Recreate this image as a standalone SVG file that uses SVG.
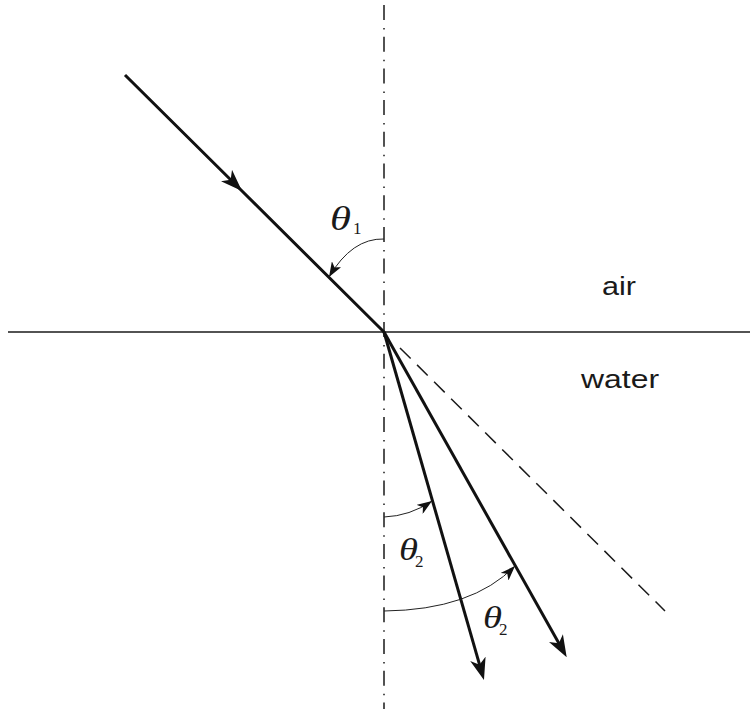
<svg xmlns="http://www.w3.org/2000/svg" width="750" height="709" viewBox="0 0 750 709">
<style>
.axis{stroke:#1a1a1a;stroke-width:1.5;fill:none}
.normal{stroke:#1a1a1a;stroke-width:1.5;fill:none;stroke-dasharray:15 8 1.5 7.2}
.ray{stroke:#111;stroke-width:3;fill:none}
.ext{stroke:#1a1a1a;stroke-width:1.5;fill:none;stroke-dasharray:15 9}
.arc{stroke:#222;stroke-width:1;fill:none}
.lbl{font-family:"Liberation Sans",Arial,sans-serif;fill:#1a1a1a}
.th{font-family:"Liberation Serif","Times New Roman",serif;font-style:italic;fill:#1a1a1a}
.sub{font-family:"Liberation Serif","Times New Roman",serif;fill:#1a1a1a}
</style>
<defs>
<marker id="big" viewBox="0 0 22 16" refX="12" refY="8" markerWidth="22" markerHeight="16" orient="auto" markerUnits="userSpaceOnUse"><path d="M0,0 L22,8 L0,16 L6,8 z" fill="#111"/></marker>
<marker id="mid" viewBox="0 0 22 16" refX="22" refY="8" markerWidth="22" markerHeight="16" orient="auto" markerUnits="userSpaceOnUse"><path d="M0,0 L22,8 L0,16 L6,8 z" fill="#111"/></marker>
<marker id="small" viewBox="0 0 15 11" refX="15" refY="5.5" markerWidth="15" markerHeight="11" orient="auto" markerUnits="userSpaceOnUse"><path d="M0,0 L15,5.5 L0,11 L4,5.5 z" fill="#111"/></marker>
</defs>
<g id="surface"><line class="axis" x1="8" y1="332" x2="750" y2="332"/></g>
<g id="normal"><line class="normal" x1="384" y1="5" x2="384" y2="709"/></g>
<g id="connectors">
<path id="incident" class="ray" d="M125,75 L242,191 L384,332" marker-mid="url(#mid)"/>
<line id="refracted1" class="ray" x1="384" y1="332" x2="481.2" y2="670.4" marker-end="url(#big)"/>
<line id="refracted2" class="ray" x1="384" y1="332" x2="561.8" y2="648.6" marker-end="url(#big)"/>
<line id="extension" class="ext" x1="400" y1="348" x2="665" y2="611"/>
<path id="arc1" class="arc" d="M384,239 Q352,238 329,277" marker-end="url(#small)"/>
<path id="arc2" class="arc" d="M384,517 Q410,516 432,501" marker-end="url(#small)"/>
<path id="arc3" class="arc" d="M384,611 Q472,610 515,566" marker-end="url(#small)"/>
</g>
<g id="theta1"><text class="th" x="330" y="230" font-size="34" textLength="21" lengthAdjust="spacingAndGlyphs">θ</text><text class="sub" x="353" y="234" font-size="17">1</text></g>
<g id="theta2a"><text class="th" x="399" y="560" font-size="32" textLength="19" lengthAdjust="spacingAndGlyphs">θ</text><text class="sub" x="415" y="567" font-size="17">2</text></g>
<g id="theta2b"><text class="th" x="483" y="628" font-size="32" textLength="19" lengthAdjust="spacingAndGlyphs">θ</text><text class="sub" x="499" y="635" font-size="17">2</text></g>
<g id="air"><text class="lbl" x="602" y="294.5" font-size="25" textLength="34" lengthAdjust="spacingAndGlyphs">air</text></g>
<g id="water"><text class="lbl" x="581" y="388" font-size="26" textLength="78" lengthAdjust="spacingAndGlyphs">water</text></g>
</svg>
